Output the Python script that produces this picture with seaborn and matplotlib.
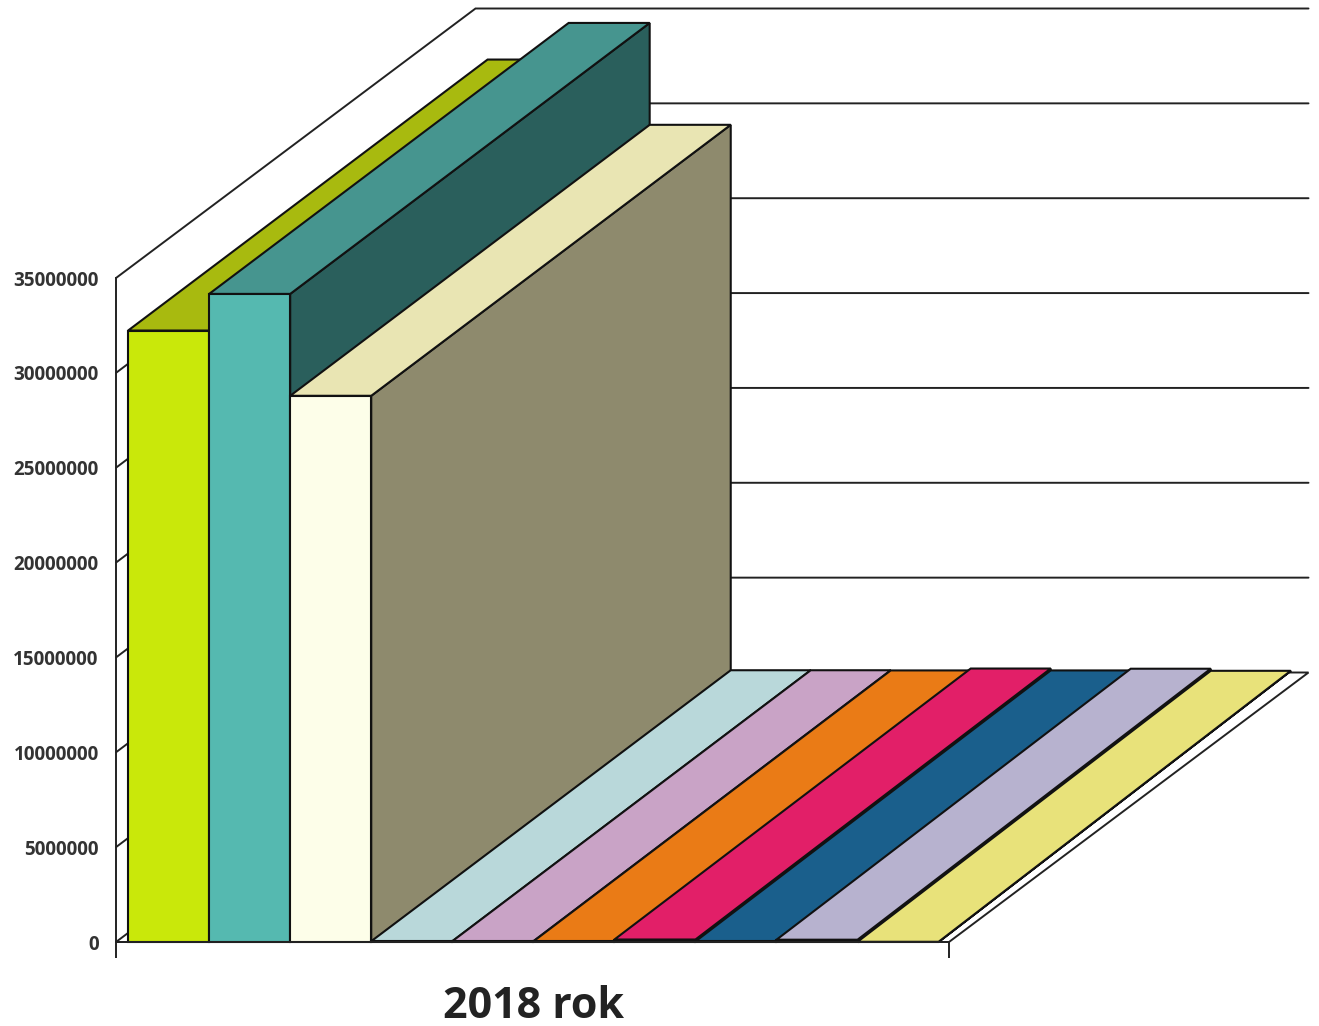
import matplotlib
matplotlib.use("Agg")
import matplotlib.pyplot as plt
from matplotlib.patches import Polygon, Rectangle
import pandas as pd
import seaborn as sns

year = "2018 rok"
series = ["S1", "S2", "S3", "S4", "S5", "S6", "S7", "S8", "S9", "S10"]
values = [32230000, 34160000, 28790000, 40000, 40000, 30000, 130000, 30000, 120000, 10000]
front_colors = ["#c9e80a", "#55b9b0", "#fdfee9", "#c0dde0", "#cfa4cb", "#ef7d14", "#e8206d", "#19618f", "#b8b3d2", "#e9e37e"]
top_colors = ["#a8ba0f", "#46958f", "#e9e5b3", "#b9d8da", "#c9a3c6", "#ea7b16", "#e21f68", "#1a5f8c", "#b7b2cf", "#e8e27a"]
side_colors = ["#7d8c08", "#2a5f5c", "#8e8a6d", "#7f9a9c", "#8c6f89", "#a5560c", "#111111", "#0f3f5e", "#111111", "#a5a056"]
y_ticks = [0, 5000000, 10000000, 15000000, 20000000, 25000000, 30000000, 35000000]

W, H = 1319, 1026
sns.set_theme(style="white")
plt.rcParams["font.family"] = ["Open Sans", "DejaVu Sans"]

fig = plt.figure(figsize=(W / 100, H / 100), dpi=100, facecolor="white")
ax = fig.add_axes([116 / W, 1 - 942 / H, (949 - 116) / W, (942 - 278) / H])

df = pd.DataFrame({"year": [year] * len(series), "series": series, "value": values})
sns.barplot(data=df, x="year", y="value", hue="series", hue_order=series,
            palette=front_colors, width=0.973, saturation=1, legend=False,
            edgecolor="#111111", linewidth=1.5, ax=ax)

ax.set_xlim(-0.5010, 0.4990)
ax.set_ylim(0, 35000000)
x0, x1 = ax.get_xlim()
y1 = ax.get_ylim()[1]
sx = (949 - 116) / (x1 - x0)      # pixels per x unit
sy = (942 - 278) / y1             # pixels per y unit
DX = 359.5 / sx
DY_GRID = 269.5 / sy
DY_BAR = 271 / sy
SQUEEZE = 0.987                   # back edges of the low bars sit slightly closer together

LINE = "#222222"
ax.add_patch(Polygon([(x0, 0), (x1, 0), (x1 + DX, DY_GRID), (x0 + DX, DY_GRID)], closed=True,
                     facecolor="white", edgecolor=LINE, linewidth=1.4, clip_on=False, zorder=1))
for t in y_ticks[1:]:
    ax.plot([x0, x0 + DX, x1 + DX], [t, t + DY_GRID, t + DY_GRID], color=LINE, linewidth=1.4,
            clip_on=False, zorder=1, solid_joinstyle="miter")

bars = [p for p in ax.patches if isinstance(p, Rectangle) and p.get_width() < 0.5]
pivot = bars[2].get_x() + bars[2].get_width()


def back(x):
    return x + DX if x <= pivot else pivot + DX + (x - pivot) * SQUEEZE


for i, patch in enumerate(bars):
    z = 10 + i
    l, r = patch.get_x(), patch.get_x() + patch.get_width()
    h = patch.get_height()
    patch.set_zorder(z + 0.2)
    patch.set_clip_on(False)
    ax.add_patch(Polygon([(r, 0), (back(r), DY_BAR), (back(r), h + DY_BAR), (r, h)], closed=True,
                         facecolor=side_colors[i], edgecolor="#111111", linewidth=1.5,
                         clip_on=False, zorder=z))
    ax.add_patch(Polygon([(l, h), (r, h), (back(r), h + DY_BAR), (back(l), h + DY_BAR)], closed=True,
                         facecolor=top_colors[i], edgecolor="#111111", linewidth=1.5,
                         clip_on=False, zorder=z + 0.1))

sns.despine(ax=ax)
for s in ("left", "bottom"):
    ax.spines[s].set_color(LINE)
    ax.spines[s].set_linewidth(1.4)
    ax.spines[s].set_zorder(40)

ax.set_yticks(y_ticks)
ax.set_yticklabels([str(t) for t in y_ticks])
ax.tick_params(axis="y", length=9.5, width=1.4, color=LINE, labelsize=13.6, pad=3, labelcolor="#333333")
for lab in ax.get_yticklabels():
    lab.set_fontweight("bold")
ax.set_xticks([x0, x1], minor=True)
ax.tick_params(axis="x", which="minor", length=11.5, width=1.4, color=LINE, bottom=True)
ax.tick_params(axis="x", which="major", length=0, labelsize=31, pad=31, labelcolor="#222222")
for lab in ax.get_xticklabels():
    lab.set_fontweight("bold")
ax.set_xlabel("")
ax.set_ylabel("")
ax.set_facecolor("none")

fig.savefig("out.png", dpi=100, facecolor="white")
